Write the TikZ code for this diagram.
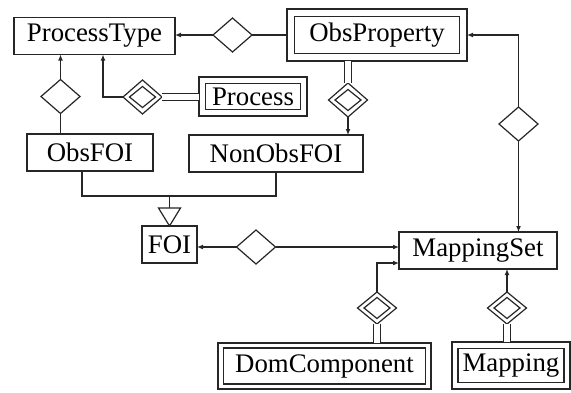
\documentclass[tikz,border=0pt]{standalone}
\usepackage{fontspec}
\setmainfont{Liberation Serif}
\usetikzlibrary{shapes.geometric,arrows.meta,calc}
\begin{document}
\begin{tikzpicture}[x=1pt,y=-1pt,
  line width=1.2pt, draw=black!85,
  every node/.style={inner sep=0pt, outer sep=0pt},
  ent/.style={draw, rectangle, minimum height=37pt, font=\fontsize{26.8}{30}\selectfont},
  outerbox/.style={draw, rectangle},
  innerbox/.style={draw, rectangle, font=\fontsize{26.8}{30}\selectfont},
  rel/.style={draw, diamond, minimum width=39pt, minimum height=34pt},
  innerrel/.style={draw, diamond, minimum width=26pt, minimum height=21pt},
  arr/.style={-{Latex[length=6pt,width=5pt]}},
  dbl/.style={double, double distance=5.8pt}]
\useasboundingbox (0,0) rectangle (571,392);

% entities
\node[ent, minimum width=161pt] (ptype) at (94.5,36) {ProcessType};
\node[outerbox, minimum width=180pt, minimum height=52pt] (oprop) at (377,35) {};
\node[innerbox, minimum width=165pt, minimum height=37pt] (opropin) at (oprop.center) {ObsProperty};
\node[outerbox, minimum width=108pt, minimum height=39pt] (proc) at (253,96.5) {};
\node[innerbox, minimum width=95pt, minimum height=26pt] (procin) at (proc.center) {Process};
\node[ent, minimum width=126pt] (ofoi) at (90,152.5) {ObsFOI};
\node[ent, minimum width=174pt] (nofoi) at (276,153.5) {NonObsFOI};
\node[ent, minimum width=55pt] (foi) at (169.5,244.5) {FOI};
\node[ent, minimum width=158pt] (mset) at (478,250.5) {MappingSet};
\node[outerbox, minimum width=213pt, minimum height=46pt] (dcomp) at (324.5,366) {};
\node[innerbox, minimum width=202pt, minimum height=36pt] (dcompin) at (dcomp.center) {DomComponent};
\node[outerbox, minimum width=118pt, minimum height=47pt] (map) at (511,365.5) {};
\node[innerbox, minimum width=106pt, minimum height=34pt] (mapin) at (map.center) {Mapping};

% relationships
\node[rel] (r1) at (232.5,35) {};
\node[rel] (r2) at (142.5,97) {};
\node[innerrel] (r2in) at (r2.center) {};
\node[rel] (r3) at (60.5,96.5) {};
\node[rel] (r4) at (348,100) {};
\node[innerrel] (r4in) at (r4.center) {};
\node[rel] (r5) at (518.5,124) {};
\node[rel] (r6) at (256,247) {};
\node[rel, minimum height=32pt] (r7) at (377,308) {};
\node[innerrel] (r7in) at (r7.center) {};
\node[rel, minimum height=32pt] (r8) at (507,308) {};
\node[innerrel] (r8in) at (r8.center) {};

% connectors
\draw[arr] (r1.west) -- (r1.west -| ptype.east);
\draw (r1.east) -- (r1.east -| oprop.west);

\draw[arr] (r2.west) -| ($(ptype.south)+(8.5,0)$);
\draw[dbl] (r2.east) -- (r2.east -| proc.west);

\draw (r3.south) -- (r3.south |- ofoi.north);
\draw[arr] (r3.north) -- (r3.north |- ptype.south);

\draw[dbl] (r4.north |- oprop.south) -- (r4.north);
\draw[arr] (r4.south) -- (r4.south |- nofoi.north);

\draw[arr] (r5.north) |- (oprop.east);
\draw[arr] (r5.south) -- (r5.south |- mset.north);

% generalisation
\draw ($(ofoi.south)+(-8,0)$) -- ++(0,25) -| (nofoi.south);
\draw (foi.north) -- ++(-11,-18) -- ++(22,0) -- cycle;
\draw ($(foi.north)+(0,-18)$) -- ++(0,-12);

\draw[arr] (r6.west) -- (r6.west -| foi.east);
\draw[arr] (r6.east) -- (r6.east -| mset.west);

\draw[dbl] (r7.south) -- (r7.south |- dcomp.north);
\draw[arr] (r7.north) |- ($(mset.west)+(0,12.5)$);

\draw[dbl] (r8.south) -- (r8.south |- map.north);
\draw[arr] (r8.north) -- (r8.north |- mset.south);
\end{tikzpicture}
\end{document}
